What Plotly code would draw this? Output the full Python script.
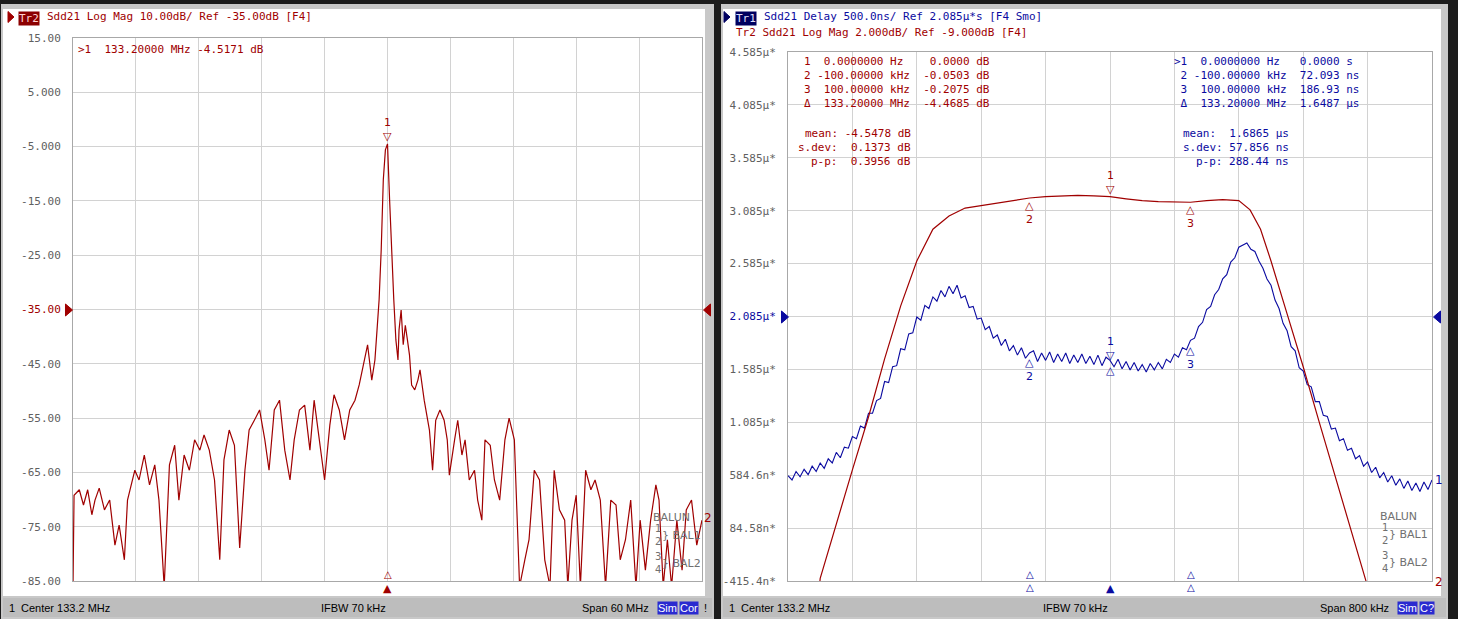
import plotly.graph_objects as go

W, H = 1458, 619

RED = "#a00000"
BLUE = "#0a0aa0"
GRID = "#d2d2d2"
TICK = "#606060"
MONO = "DejaVu Sans Mono"
SANS = "DejaVu Sans"
NARROW = "Liberation Sans Narrow, Liberation Sans, Arial"

# ---------------- Left chart: Tr2 Sdd21 Log Mag (Span 60 MHz) ----------------
left_center_mhz = 133.2
left_span_mhz = 60.0
left_offset_mhz = [
    -30.0, -29.9, -29.4, -29.0, -28.6, -28.2, -27.9, -27.5, -27.0, -26.5,
    -26.0, -25.6, -25.1, -24.8, -24.1, -23.7, -23.2, -22.7, -22.2, -21.8,
    -21.3, -20.8, -20.3, -19.9, -19.4, -18.9, -18.4, -17.9, -17.5, -17.0,
    -16.5, -16.0, -15.6, -15.1, -14.6, -14.1, -13.6, -13.2, -12.7, -12.2,
    -11.7, -11.3, -10.8, -10.3, -9.8, -9.3, -8.9, -8.4, -7.9, -7.4,
    -7.0, -6.5, -6.0, -5.5, -5.1, -4.6, -4.1, -3.6, -3.1, -2.7,
    -2.2, -1.9, -1.5, -1.2, -1.0, -0.8, -0.6, -0.4, -0.2, 0.0,
    0.2, 0.4, 0.6, 0.8, 1.0, 1.1, 1.3, 1.5, 1.7, 1.9,
    2.1, 2.3, 2.6, 2.9, 3.1, 3.5, 4.0, 4.3, 4.6, 5.0,
    5.4, 5.7, 5.9, 6.4, 6.7, 7.1, 7.4, 7.8, 8.3, 8.6,
    9.0, 9.3, 9.8, 10.2, 10.7, 11.2, 11.6, 12.1, 12.4, 12.6,
    13.1, 13.5, 14.0, 14.5, 15.0, 15.5, 15.9, 16.4, 16.9, 17.2,
    17.6, 18.0, 18.4, 18.9, 19.4, 19.8, 20.3, 20.8, 21.3, 21.8,
    22.2, 22.7, 23.2, 23.7, 24.1, 24.6, 25.1, 25.6, 25.9, 26.3,
    26.7, 27.1, 27.6, 28.1, 28.5, 29.0, 29.5, 30.0,
]
left_mag_db = [
    -86.0, -69.2, -68.2, -71.0, -68.2, -72.8, -70.1, -67.9, -71.9, -70.1,
    -78.4, -74.7, -81.1, -70.1, -64.6, -66.4, -61.8, -67.3, -63.6, -70.1,
    -86.0, -63.6, -60.0, -70.1, -61.8, -64.6, -59.0, -60.9, -58.1, -60.9,
    -66.4, -81.1, -62.7, -57.2, -60.0, -78.9, -64.6, -57.2, -55.4, -53.5,
    -59.0, -64.6, -53.5, -51.7, -60.9, -66.4, -59.0, -53.5, -52.6, -60.9,
    -51.7, -59.0, -66.4, -56.3, -50.7, -53.5, -59.0, -53.5, -51.7, -48.9,
    -44.3, -41.5, -48.0, -44.3, -38.8, -33.2, -24.0, -11.1, -5.6, -4.5,
    -14.8, -25.9, -33.2, -40.6, -44.3, -38.8, -35.1, -41.5, -37.9, -40.6,
    -43.4, -48.9, -49.8, -48.0, -46.1, -51.7, -57.2, -64.6, -55.4, -53.5,
    -55.4, -59.0, -65.5, -59.0, -55.4, -61.8, -59.0, -66.4, -64.6, -70.1,
    -73.8, -59.0, -60.0, -66.4, -70.1, -59.0, -55.0, -59.0, -73.8, -86.0,
    -81.1, -77.4, -64.6, -66.4, -81.1, -86.0, -64.6, -71.9, -73.8, -86.0,
    -73.8, -69.2, -86.0, -64.6, -68.2, -66.4, -70.1, -86.0, -70.1, -71.0,
    -81.1, -77.4, -70.1, -86.0, -73.8, -83.0, -73.8, -67.3, -70.1, -86.0,
    -77.4, -86.0, -73.8, -83.0, -71.9, -70.1, -78.4, -73.8,
]
left_yticks = [15, 5, -5, -15, -25, -35, -45, -55, -65, -75, -85]
left_yticklabels = ["15.00", "5.000", "-5.000", "-15.00", "-25.00", "-35.00",
                    "-45.00", "-55.00", "-65.00", "-75.00", "-85.00"]
left_ref_db = -35.0

# ---------------- Right chart: Tr1 Delay + Tr2 Log Mag (Span 800 kHz) ----------------
right_span_khz = 800
delay_offset_khz = list(range(-400, 401, 5))
delay_us = [
    0.58, 0.54, 0.62, 0.57, 0.64, 0.59, 0.67, 0.62, 0.70, 0.65, 0.74, 0.70, 0.80, 0.75, 0.85, 0.84, 0.95, 0.93, 1.05, 1.03,
    1.17, 1.17, 1.29, 1.31, 1.47, 1.46, 1.61, 1.62, 1.78, 1.77, 1.92, 1.93, 2.08, 2.05, 2.19, 2.16, 2.27, 2.23, 2.33, 2.27,
    2.37, 2.30, 2.38, 2.26, 2.28, 2.17, 2.18, 2.06, 2.07, 1.96, 1.99, 1.88, 1.91, 1.81, 1.87, 1.76, 1.81, 1.72, 1.79, 1.69,
    1.74, 1.76, 1.66, 1.74, 1.67, 1.75, 1.65, 1.73, 1.66, 1.74, 1.64, 1.72, 1.65, 1.73, 1.64, 1.71, 1.63, 1.72, 1.62, 1.70,
    1.67, 1.61, 1.68, 1.59, 1.66, 1.58, 1.65, 1.57, 1.63, 1.56, 1.64, 1.58, 1.65, 1.59, 1.68, 1.65, 1.73, 1.70, 1.79, 1.77,
    1.86, 1.88, 1.99, 2.03, 2.15, 2.18, 2.29, 2.34, 2.44, 2.48, 2.60, 2.64, 2.74, 2.76, 2.78, 2.72, 2.70, 2.61, 2.54, 2.44,
    2.38, 2.24, 2.16, 2.02, 1.95, 1.80, 1.76, 1.60, 1.57, 1.44, 1.42, 1.28, 1.28, 1.15, 1.14, 1.02, 1.03, 0.91, 0.93, 0.82,
    0.84, 0.74, 0.77, 0.67, 0.71, 0.61, 0.66, 0.56, 0.61, 0.52, 0.58, 0.49, 0.55, 0.46, 0.53, 0.44, 0.51, 0.43, 0.52, 0.45,
    0.54,
]
mag_offset_khz = [-400, -362, -360, -340, -320, -300, -280, -260, -240, -220, -200, -180, -160, -140, -120, -100,
                  -80, -60, -40, -20, 0, 20, 40, 60, 80, 100, 120, 140, 160, 174, 187, 200, 220, 240, 260, 280,
                  300, 318, 320, 400]
mag_db = [-19.5, -19.5, -18.9, -16.8, -14.8, -12.8, -10.6, -8.6, -6.9, -5.7, -5.2, -4.9, -4.8, -4.7, -4.6, -4.52,
          -4.47, -4.44, -4.42, -4.44, -4.47, -4.55, -4.62, -4.66, -4.67, -4.68, -4.62, -4.58, -4.62, -4.97, -5.7,
          -6.9, -8.9, -10.9, -13.0, -15.1, -17.1, -19.0, -19.5, -19.5]
delay_yticks = [4.585, 4.085, 3.585, 3.085, 2.585, 2.085, 1.585, 1.085, 0.5846, 0.08458, -0.4154]
delay_yticklabels = ["4.585µ*", "4.085µ*", "3.585µ*", "3.085µ*", "2.585µ*", "2.085µ*",
                     "1.585µ*", "1.085µ*", "584.6n*", "84.58n*", "-415.4n*"]
delay_ref_us = 2.085
mag_range_db = [-19.0, 1.0]

# markers (right chart)
mk_khz = [0, -100, 100]
mk_delay_us = [1.6487, 1.7208, 1.8356]
mk_mag_db = [-4.4685, -4.5188, -4.6760]


def pxx(x):
    return x / W


def pyy(y):
    return 1 - y / H


fig = go.Figure()

fig.add_trace(go.Scatter(
    x=[left_center_mhz + o for o in left_offset_mhz], y=left_mag_db,
    xaxis="x", yaxis="y", mode="lines", line=dict(color=RED, width=1.2), showlegend=False))

fig.add_trace(go.Scatter(
    x=mag_offset_khz, y=mag_db, xaxis="x2", yaxis="y3", mode="lines",
    line=dict(color=RED, width=1.2), showlegend=False))
fig.add_trace(go.Scatter(
    x=delay_offset_khz, y=delay_us, xaxis="x2", yaxis="y2", mode="lines",
    line=dict(color=BLUE, width=1.1), showlegend=False))

lx0 = left_center_mhz - left_span_mhz / 2
lx1 = left_center_mhz + left_span_mhz / 2

left_ticktext = []
for v, t in zip(left_yticks, left_yticklabels):
    left_ticktext.append(f"<span style='color:{RED}'>{t}</span>" if v == left_ref_db else t)
right_ticktext = []
for v, t in zip(delay_yticks, delay_yticklabels):
    right_ticktext.append(f"<span style='color:{BLUE}'>{t}</span>" if abs(v - delay_ref_us) < 1e-6 else t)

axis_common = dict(showgrid=True, gridcolor=GRID, gridwidth=1, zeroline=False, showline=True,
                   linecolor="#a8a8a8", linewidth=1, mirror=True, ticks="", fixedrange=True,
                   automargin=False)

fig.update_layout(
    width=W, height=H, margin=dict(l=0, r=0, t=0, b=0, pad=0, autoexpand=False), autosize=False,
    paper_bgcolor="#1c1c1c", plot_bgcolor="white", showlegend=False,
    xaxis=dict(domain=[pxx(73), pxx(702)], range=[lx0, lx1], tick0=lx0, dtick=left_span_mhz / 10,
               showticklabels=False, anchor="y", **axis_common),
    yaxis=dict(domain=[pyy(581), pyy(38)], range=[-85, 15], tickvals=left_yticks, ticktext=left_ticktext,
               tickfont=dict(family=MONO, size=11, color=TICK), ticklabelstandoff=9, anchor="x", **axis_common),
    xaxis2=dict(domain=[pxx(788), pxx(1432)], range=[-right_span_khz / 2, right_span_khz / 2],
                tick0=-right_span_khz / 2, dtick=right_span_khz / 10, showticklabels=False, anchor="y2",
                **axis_common),
    yaxis2=dict(domain=[pyy(581), pyy(52)], range=[delay_yticks[-1], delay_yticks[0]], tickvals=delay_yticks,
                ticktext=right_ticktext, tickfont=dict(family=MONO, size=11, color=TICK), ticklabelstandoff=9,
                anchor="x2", **axis_common),
    yaxis3=dict(range=mag_range_db, overlaying="y2", anchor="x2", visible=False, showgrid=False,
                fixedrange=True, automargin=False),
)

shapes = []


def rect(x0, y0, x1, y1, fill, line=None, lw=0):
    shapes.append(dict(type="rect", xref="paper", yref="paper", x0=pxx(x0), x1=pxx(x1), y0=pyy(y1), y1=pyy(y0),
                       fillcolor=fill, line=dict(color=line or fill, width=lw), layer="below"))


def tri(cx, cy, w, h, fill, direction="right"):
    if direction == "right":
        pts = [(cx - w / 2, cy - h / 2), (cx + w / 2, cy), (cx - w / 2, cy + h / 2)]
    elif direction == "left":
        pts = [(cx + w / 2, cy - h / 2), (cx - w / 2, cy), (cx + w / 2, cy + h / 2)]
    else:
        pts = [(cx - w / 2, cy + h / 2), (cx, cy - h / 2), (cx + w / 2, cy + h / 2)]
    path = "M " + " L ".join(f"{pxx(a):.5f},{pyy(b):.5f}" for a, b in pts) + " Z"
    shapes.append(dict(type="path", xref="paper", yref="paper", path=path, fillcolor=fill,
                       line=dict(color=fill, width=1), layer="above"))


# window frames
rect(1, 4, 714, 619, "#c8c8c8")
rect(3, 9, 705, 596, "white")
rect(721, 4, 1448, 619, "#c8c8c8")
rect(723, 9, 1441, 596, "white")
# status bars
rect(3, 598, 712, 617, "#bdbdbd")
rect(723, 598, 1446, 617, "#bdbdbd")

# reference level arrows
tri(69, 310, 7, 12, RED, "right")
tri(707, 310, 7, 12, RED, "left")
tri(785, 317, 7, 12, BLUE, "right")
tri(1437, 317, 7, 12, BLUE, "left")
# header arrows
tri(11, 17, 6, 11, RED, "right")
tri(727, 17, 6, 11, "#000060", "right")

fig.update_layout(shapes=shapes)

ann = []


def txt(x, y, s, color, size=11, family=MONO, xanchor="left", yanchor="middle", bg=None):
    d = dict(xref="paper", yref="paper", x=pxx(x), y=pyy(y), text=s, showarrow=False,
             font=dict(family=family, size=size, color=color), xanchor=xanchor, yanchor=yanchor,
             borderpad=0)
    if bg:
        d["bgcolor"] = bg
    ann.append(d)


def dtxt(xref, yref, x, y, s, color, size=11, yanchor="middle", yshift=0, family=SANS):
    ann.append(dict(xref=xref, yref=yref, x=x, y=y, text=s, showarrow=False, yshift=yshift,
                    font=dict(family=family, size=size, color=color), xanchor="center", yanchor=yanchor,
                    borderpad=0))


NB = "\u00a0"


def nb(s):
    return s.replace(" ", NB)


# headers
txt(18, 18, "Tr2", "#ffd0d0", 11, MONO, bg="#8c0000")
txt(46, 17, nb("Sdd21 Log Mag 10.00dB/ Ref -35.00dB [F4]"), RED)
txt(735, 18, "Tr1", "#e0e0ff", 11, MONO, bg="#000060")
txt(763, 17, nb("Sdd21 Delay 500.0ns/ Ref 2.085µ*s [F4 Smo]"), BLUE)
txt(735, 32, nb("Tr2 Sdd21 Log Mag 2.000dB/ Ref -9.000dB [F4]"), RED)

# left marker readout
txt(77, 49, nb(">1  133.20000 MHz -4.5171 dB"), RED)

# right red readouts
red_lines = [
    "1  0.0000000 Hz    0.0000 dB",
    "2 -100.00000 kHz  -0.0503 dB",
    "3  100.00000 kHz  -0.2075 dB",
    "Δ  133.20000 MHz  -4.4685 dB",
]
for i, s in enumerate(red_lines):
    txt(803, 62 + 14 * i, nb(s), RED)
red_stats = ["mean: -4.5478 dB", "s.dev:  0.1373 dB", "p-p:  0.3956 dB"]
for i, s in enumerate(red_stats):
    txt(912, 133 + 14 * i, nb(s), RED, xanchor="right")

blue_lines = [
    ">1  0.0000000 Hz   0.0000 s",
    " 2 -100.00000 kHz  72.093 ns",
    " 3  100.00000 kHz  186.93 ns",
    " Δ  133.20000 MHz  1.6487 µs",
]
for i, s in enumerate(blue_lines):
    txt(1173, 62 + 14 * i, nb(s), BLUE)
blue_stats = ["mean:  1.6865 µs", "s.dev: 57.856 ns", "p-p: 288.44 ns"]
for i, s in enumerate(blue_stats):
    txt(1290, 133 + 14 * i, nb(s), BLUE, xanchor="right")

# left chart markers
dtxt("x", "y", left_center_mhz, -4.5, "▽", RED, 11, "bottom", 0)
dtxt("x", "y", left_center_mhz, -4.5, "1", RED, 11, "bottom", 14)
dtxt("x", "y", left_center_mhz, -85, "▲", RED, 11, "top", 0)
dtxt("x", "y", left_center_mhz, -85, "△", RED, 10, "bottom", 0)

# right chart markers on red (mag) trace
dtxt("x2", "y3", mk_khz[0], mk_mag_db[0], "▽", RED, 11, "bottom", 0)
dtxt("x2", "y3", mk_khz[0], mk_mag_db[0], "1", RED, 11, "bottom", 14)
for k, v, lab in zip(mk_khz[1:], mk_mag_db[1:], ["2", "3"]):
    dtxt("x2", "y3", k, v, "△", RED, 11, "top", 0)
    dtxt("x2", "y3", k, v, lab, RED, 11, "top", -14)
# markers on blue (delay) trace
dtxt("x2", "y2", mk_khz[0], mk_delay_us[0], "▽", BLUE, 11, "bottom", 0)
dtxt("x2", "y2", mk_khz[0], mk_delay_us[0], "1", BLUE, 11, "bottom", 14)
dtxt("x2", "y2", mk_khz[0], mk_delay_us[0], "△", BLUE, 11, "top", 0)
for k, v, lab in zip(mk_khz[1:], mk_delay_us[1:], ["2", "3"]):
    dtxt("x2", "y2", k, v, "△", BLUE, 11, "top", 0)
    dtxt("x2", "y2", k, v, lab, BLUE, 11, "top", -14)
# bottom-axis markers
bottom = delay_yticks[-1]
dtxt("x2", "y2", mk_khz[0], bottom, "▲", BLUE, 11, "top", 0)
for k in mk_khz[1:]:
    dtxt("x2", "y2", k, bottom, "△", BLUE, 10, "top", 0)
    dtxt("x2", "y2", k, bottom, "△", BLUE, 10, "bottom", 0)

# trace-end labels
txt(703, 518, "2", RED, 12, SANS)
txt(1434, 480, "1", BLUE, 12, SANS)
txt(1434, 582, "2", RED, 12, SANS)

# BALUN legends
GRAYT = "#707070"
for bx, (y0) in [(652, 517), (1379, 516)]:
    txt(bx, y0, "BALUN", GRAYT, 11, SANS)
    txt(bx + 2, y0 + 11, "1", GRAYT, 10, SANS)
    txt(bx + 2, y0 + 24, "2", GRAYT, 10, SANS)
    txt(bx + 9, y0 + 18, nb("} BAL1"), GRAYT, 11, SANS)
    txt(bx + 2, y0 + 39, "3", GRAYT, 10, SANS)
    txt(bx + 2, y0 + 52, "4", GRAYT, 10, SANS)
    txt(bx + 9, y0 + 46, nb("} BAL2"), GRAYT, 11, SANS)

# status bars
for x0, span, sim2, right_end in [(3, "Span 60 MHz", "Cor", 650), (723, "Span 800 kHz", "C?", 1390)]:
    txt(x0 + 5, 608, "1", "black", 11, NARROW)
    txt(x0 + 17, 608, "Center 133.2 MHz", "black", 11, NARROW)
    txt(x0 + (350 if x0 < 700 else 352), 608, "IFBW 70 kHz", "black", 11, NARROW, xanchor="center")
    txt(right_end, 608, span, "black", 11, NARROW, xanchor="right")
    txt(right_end + 7, 608, "Sim", "white", 11, NARROW, bg="#2a2ad0")
    txt(right_end + 29, 608, sim2, "white", 11, NARROW, bg="#2a2ad0")
txt(703, 608, "!", "black", 11, NARROW)

fig.update_layout(annotations=ann)
fig.write_html(
    "out.html",
    config={"displayModeBar": False, "responsive": False},
    post_script=("document.documentElement.style.background='#1c1c1c';"
                 "document.body.style.margin='0px';document.body.style.overflow='hidden';"),
)
